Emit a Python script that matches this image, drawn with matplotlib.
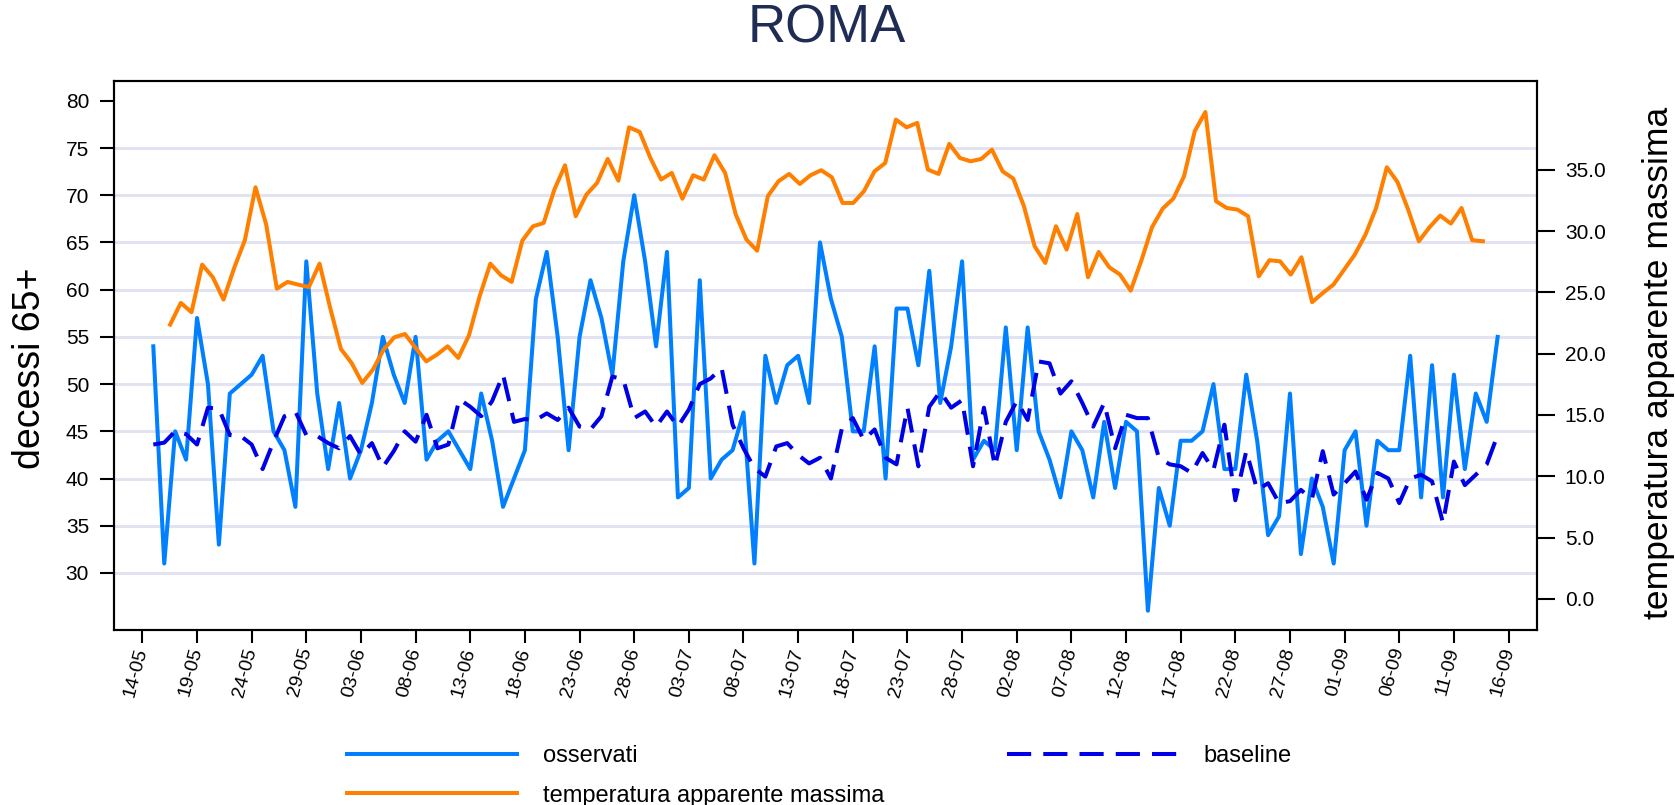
import numpy as np
import pandas as pd
import matplotlib
matplotlib.use('Agg')
import matplotlib.pyplot as plt
import matplotlib.dates as mdates

plt.rcParams['font.family'] = ['Liberation Sans', 'DejaVu Sans']

# daily series, 15-05 .. 15-09
dates = pd.date_range('2019-05-15', '2019-09-15', freq='D')

osservati = [54, 31, 45, 42, 57, 50, 33, 49, 50, 51,
             53, 45, 43, 37, 63, 49, 41, 48, 40, 43,
             48, 55, 51, 48, 55, 42, 44, 45, 43, 41,
             49, 44, 37, 40, 43, 59, 64, 55, 43, 55,
             61, 57, 51, 63, 70, 63, 54, 64, 38, 39,
             61, 40, 42, 43, 47, 31, 53, 48, 52, 53,
             48, 65, 59, 55, 45, 45, 54, 40, 58, 58,
             52, 62, 48, 54, 63, 42, 44, 43, 56, 43,
             56, 45, 42, 38, 45, 43, 38, 46, 39, 46,
             45, 26, 39, 35, 44, 44, 45, 50, 41, 41,
             51, 44, 34, 36, 49, 32, 40, 37, 31, 43,
             45, 35, 44, 43, 43, 53, 38, 52, 38, 51,
             41, 49, 46, 55]

baseline = [43.6, 43.8, 45.0, 44.7, 43.6, 47.5, 47.4, 44.6, 44.5, 43.6,
            41.0, 43.9, 46.6, 47.1, 44.6, 44.5, 43.75, 43.2, 44.5, 42.5,
            43.75, 41.2, 42.9, 45.0, 43.9, 46.75, 43.2, 43.6, 48.4, 47.6,
            46.6, 48.2, 51.0, 46.0, 46.3, 46.2, 46.9, 46.2, 47.5, 45.5,
            45.2, 46.6, 50.8, 50.5, 46.4, 47.1, 45.5, 47.1, 45.5, 47.3,
            50.0, 50.6, 51.7, 45.7, 43.2, 41.1, 40.2, 43.4, 43.75, 42.5,
            41.6, 42.2, 40.0, 45.3, 46.4, 44.1, 45.2, 42.2, 41.5, 47.5,
            41.3, 47.6, 49.2, 47.5, 48.3, 41.3, 47.5, 41.3, 46.0, 48.2,
            46.2, 52.4, 52.2, 49.0, 50.3, 48.0, 45.5, 48.0, 43.2, 46.75,
            46.4, 46.4, 42.2, 41.5, 41.3, 40.6, 42.7, 40.9, 45.7, 37.7,
            42.9, 38.8, 39.5, 37.4, 37.6, 38.8, 37.8, 42.9, 38.3, 39.5,
            40.75, 37.75, 40.6, 40.0, 37.4, 40.0, 40.4, 39.7, 35.3, 41.8,
            39.3, 40.4, 41.5, 44.6]

temperatura = [22.37, 24.14, 23.38, 27.26, 26.23, 24.41, 26.99, 29.25, 33.57, 30.53,
               25.30, 25.85, 25.63, 25.43, 27.34, 23.72, 20.38, 19.24, 17.61, 18.70,
               20.33, 21.33, 21.60, 20.46, 19.37, 19.92, 20.60, 19.65, 21.50, 24.68,
               27.34, 26.39, 25.85, 29.22, 30.39, 30.66, 33.38, 35.36, 31.21, 32.97,
               33.92, 35.88, 34.11, 38.46, 38.08, 35.96, 34.20, 34.74, 32.64, 34.55,
               34.20, 36.18, 34.74, 31.34, 29.30, 28.40, 32.84, 34.06, 34.66, 33.84,
               34.55, 34.96, 34.39, 32.29, 32.29, 33.24, 34.87, 35.55, 39.09, 38.46,
               38.82, 35.01, 34.66, 37.11, 35.96, 35.69, 35.88, 36.64, 34.87, 34.28,
               32.02, 28.76, 27.40, 30.39, 28.49, 31.39, 26.23, 28.29, 27.04, 26.45,
               25.14, 27.59, 30.31, 31.83, 32.65, 34.47, 38.14, 39.71, 32.43, 31.88,
               31.75, 31.21, 26.31, 27.62, 27.53, 26.45, 27.86, 24.20, 24.95, 25.63,
               26.85, 28.08, 29.71, 31.89, 35.20, 34.00, 31.75, 29.17, 30.31, 31.26,
               30.61, 31.88, 29.25, 29.17]

# temperature sits on its own (slightly narrower) category axis
start = pd.Timestamp('2019-05-14')
temp_x = start + pd.to_timedelta(np.linspace(2.54, 122.65, len(temperatura)), unit='D')

tick_dates = pd.date_range('2019-05-14', '2019-09-16', freq='5D')
left_ticks = [30, 35, 40, 45, 50, 55, 60, 65, 70, 75, 80]
right_ticks = [0, 5, 10, 15, 20, 25, 30, 35]

c_obs = '#0080ff'
c_base = '#0000e6'
c_temp = '#ff8000'

fig = plt.figure(figsize=(16.75, 8.05), dpi=100)
ax = fig.add_axes([0.0681, 0.2174, 0.8495, 0.6820])
ax2 = ax.twinx()

l_obs, = ax.plot(dates, osservati, color=c_obs, lw=2.9, zorder=3)
l_base, = ax.plot(dates, baseline, color=c_base, lw=2.9, dashes=(6, 3), zorder=4)
l_temp, = ax2.plot(temp_x, temperatura, color=c_temp, lw=2.9)

ax.set_xlim(start - pd.Timedelta(days=2.59), start + pd.Timedelta(days=127.6))
ax.set_ylim(23.96, 82.1)
ax2.set_ylim(-2.54, 42.24)

ax.set_xticks(tick_dates)
ax.xaxis.set_major_formatter(mdates.DateFormatter('%d-%m'))
plt.setp(ax.get_xticklabels(), rotation=75, ha='right', va='center',
         rotation_mode='anchor')

ax.set_yticks(left_ticks)
ax.set_yticklabels([str(v) for v in left_ticks])
ax2.set_yticks(right_ticks)
ax2.set_yticklabels(['%.1f' % v for v in right_ticks])

ax.yaxis.grid(True, color='#e1e4f0', lw=2.2)
ax.yaxis.get_gridlines()[-1].set_visible(False)
ax.set_axisbelow(True)

for a in (ax, ax2):
    for s in a.spines.values():
        s.set_linewidth(1.5)
        s.set_color('black')

ax.tick_params(axis='y', length=10, width=1.5, labelsize=15, pad=8)
ax.tick_params(axis='x', length=9, width=1.5, labelsize=14, pad=4)
ax2.tick_params(axis='y', length=13, width=1.5, labelsize=15, pad=7)

fig.text(0.4937, 0.964, 'ROMA', ha='center', va='center', fontsize=38,
         color='#1f2d55')
fig.text(0.0179, 0.543, 'decessi 65+', rotation=90, ha='center', va='center',
         fontsize=27)
fig.text(0.9904, 0.549, 'temperatura apparente massima', rotation=90,
         ha='center', va='center', fontsize=25.5)

fig.legend([l_obs, l_temp, l_base],
           ['osservati', 'temperatura apparente massima', 'baseline'],
           loc='upper left', bbox_to_anchor=(0.2072, 0.0745), ncol=2,
           frameon=False, fontsize=17, handlelength=7.2, handletextpad=1.1,
           columnspacing=5.2, labelspacing=0.75, borderpad=0, borderaxespad=0)

fig.savefig('out.png', dpi=100)
